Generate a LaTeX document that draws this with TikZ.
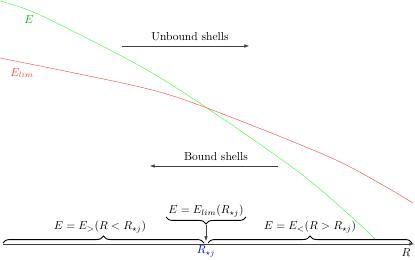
\documentclass[tikz,border=0pt]{standalone}
\usepackage{amsmath}
\usetikzlibrary{arrows.meta, decorations.pathreplacing}
\begin{document}
\begin{tikzpicture}[
  x=0.87pt, y=-0.87pt,
  shellarr/.style={-{Latex[length=4pt, width=3pt]}, thin, black!75},
  brc/.style={decorate, decoration={brace, amplitude=6pt}, thick},
]
\useasboundingbox (0,0) rectangle (415,260);

%% ENERGY CURVES
\draw[green!75] plot[smooth] coordinates
  {(0,1) (40,15) (140,66) (207,108) (300,173) (355,220) (375,239)};
\draw[red!70] plot[smooth] coordinates
  {(0,58) (140,87) (207,108) (336,160) (413,203)};
\node[text=green!70!black] (elab) at (29,20) {$E$};
\node[text=red!75]         (elim) at (22,73) {$E_{lim}$};

%% SHELL ARROWS
\coordinate (ub1) at (122,46);
\coordinate (ub2) at (249,46);
\draw[shellarr] (ub1) -- (ub2);
\node (ubtxt) at (190,37) {Unbound shells};

\coordinate (bd1) at (278,166);
\coordinate (bd2) at (150,166);
\draw[shellarr] (bd1) -- (bd2);
\node (bdtxt) at (216,157) {Bound shells};

%% R AXIS
\coordinate (r0) at (3,244);
\coordinate (r1) at (414,244);
\draw[shellarr] (r0) -- (r1);
\node (rlab) at (406,253) {$R$};
\node[text=blue] (rstar) at (206,251) {$R_{\star j}$};

%% BRACES
\coordinate (bl1) at (3,243);
\coordinate (bl2) at (204,243);
\coordinate (br1) at (208,243);
\coordinate (br2) at (412,243);
\draw[brc] (bl1) -- (bl2);
\draw[brc] (br1) -- (br2);
\node (lowlab) at (100,227) {$E=E_{>}(R<R_{\star j})$};
\node (uplab)  at (310,227) {$E=E_{<}(R>R_{\star j})$};

\coordinate (bt1) at (246,217);
\coordinate (bt2) at (166,217);
\draw[brc] (bt1) -- (bt2);
\node (limlab) at (206,211) {$E=E_{lim}(R_{\star j})$};
\coordinate (btip) at (206,225);
\coordinate (bend) at (206,241);
\draw[shellarr] (btip) -- (bend);

\end{tikzpicture}
\end{document}
